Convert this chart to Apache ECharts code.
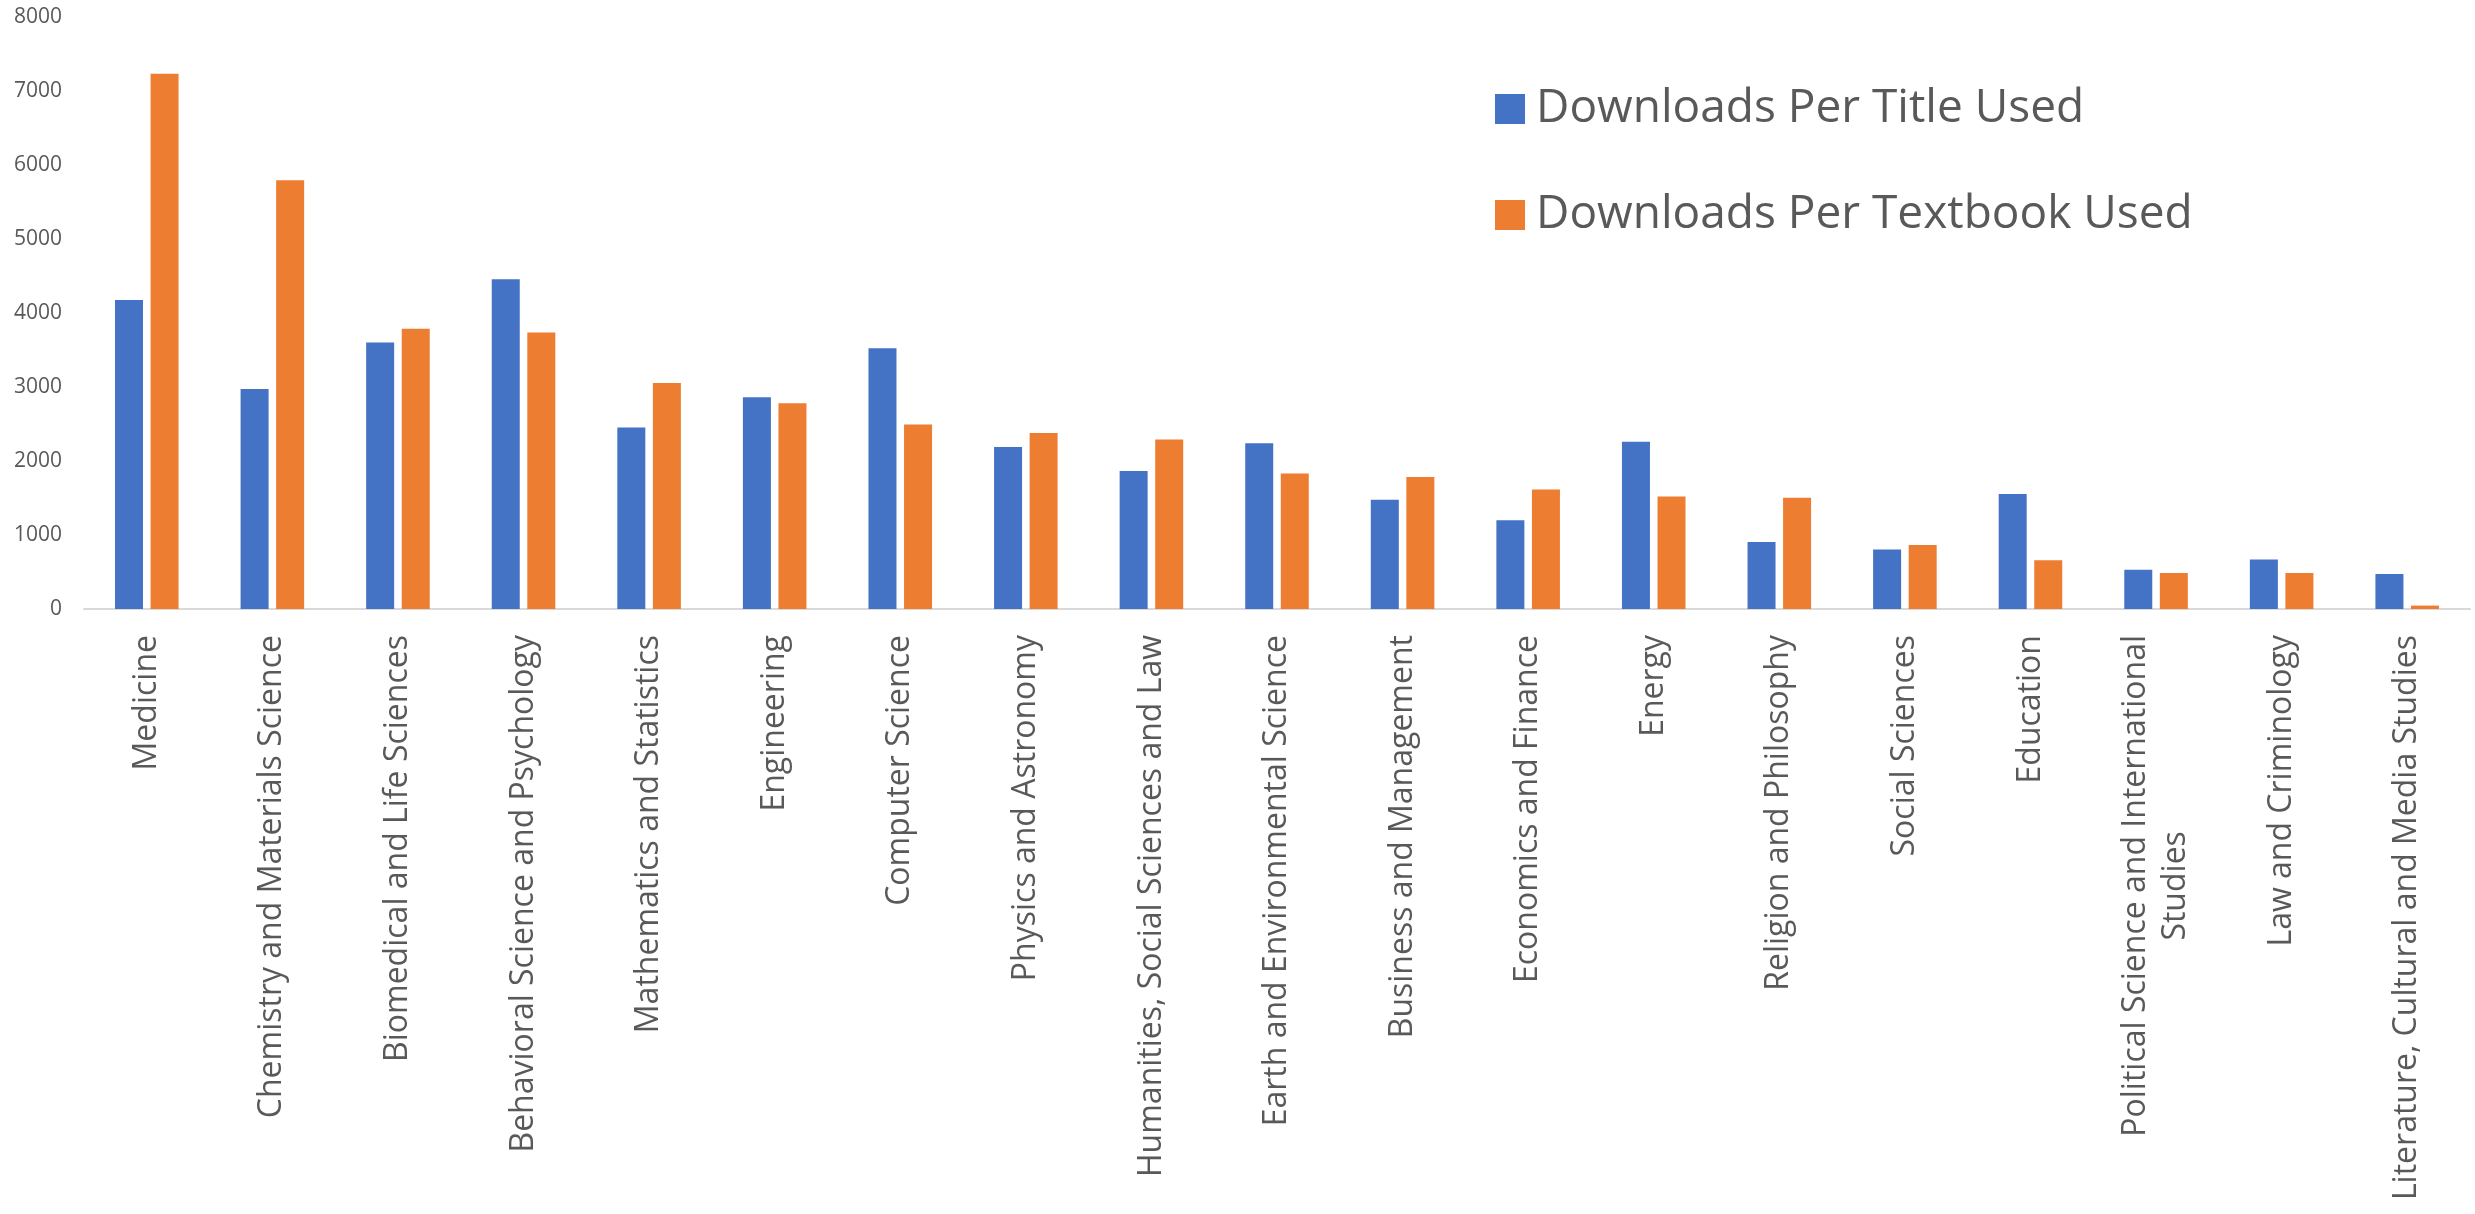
<!DOCTYPE html>
<html>
<head>
<meta charset="utf-8">
<script src="https://cdn.jsdelivr.net/npm/echarts@6/dist/echarts.min.js"></script>
<style>
html,body{margin:0;padding:0;background:#fff;}
#chart{width:2475px;height:1214px;}
</style>
</head>
<body>
<div id="chart"></div>
<script>
var categories = [
  'Medicine',
  'Chemistry and Materials Science',
  'Biomedical and Life Sciences',
  'Behavioral Science and Psychology',
  'Mathematics and Statistics',
  'Engineering',
  'Computer Science',
  'Physics and Astronomy',
  'Humanities, Social Sciences and Law',
  'Earth and Environmental Science',
  'Business and Management',
  'Economics and Finance',
  'Energy',
  'Religion and Philosophy',
  'Social Sciences',
  'Education',
  'Political Science and International\nStudies',
  'Law and Criminology',
  'Literature, Cultural and Media Studies'
];
var seriesNames = ['Downloads Per Title Used', 'Downloads Per Textbook Used'];
var titleUsed = [4174, 2972, 3600, 4455, 2453, 2861, 3525, 2190, 1866, 2240, 1478, 1199, 2260, 906, 803, 1555, 532, 668, 474];
var textbookUsed = [7234, 5795, 3788, 3738, 3054, 2779, 2492, 2380, 2289, 1830, 1785, 1614, 1519, 1505, 866, 658, 488, 488, 46];
var yTicks = {min: 0, max: 8000, interval: 1000};

var FONT = '"Open Sans", "Noto Sans", sans-serif';
var TXT = '#595959';
var chart = echarts.init(document.getElementById('chart'));
chart.setOption({
  animation: false,
  backgroundColor: '#ffffff',
  color: ['#4472C4', '#ED7D31'],
  grid: {left: 84, right: 5, top: 17, bottom: 605, containLabel: false, outerBoundsMode: 'none'},
  legend: {
    orient: 'vertical',
    left: 1490,
    top: 76,
    icon: 'rect',
    itemWidth: 30,
    itemHeight: 30,
    itemGap: 50,
    textStyle: {fontFamily: FONT, fontSize: 46, color: TXT, lineHeight: 56, padding: [0,0,0,6]},
    data: seriesNames
  },
  xAxis: {
    type: 'category',
    data: categories,
    axisLine: {lineStyle: {color: '#d9d9d9', width: 2}},
    axisTick: {show: false},
    axisLabel: {
      interval: 0,
      rotate: 90,
      margin: 26,
      fontFamily: FONT,
      fontSize: 32,
      color: TXT,
      formatter: function (v) {
        var parts = v.split('\n');
        return parts.map(function (p) { return '{c|' + p + '}'; }).join('\n');
      },
      rich: {
        c: {align: 'center', fontFamily: FONT, fontSize: 32, color: TXT, lineHeight: 40}
      }
    }
  },
  yAxis: {
    type: 'value',
    min: yTicks.min,
    max: yTicks.max,
    interval: yTicks.interval,
    splitLine: {show: false},
    axisLine: {show: false},
    axisTick: {show: false},
    axisLabel: {margin: 22, fontFamily: FONT, fontSize: 21, color: TXT, formatter: function (v) { return String(v); }}
  },
  series: [
    {name: seriesNames[0], type: 'bar', data: titleUsed, barWidth: 28, barGap: '27%'},
    {name: seriesNames[1], type: 'bar', data: textbookUsed, barWidth: 28, barGap: '27%'}
  ]
});
</script>
</body>
</html>
